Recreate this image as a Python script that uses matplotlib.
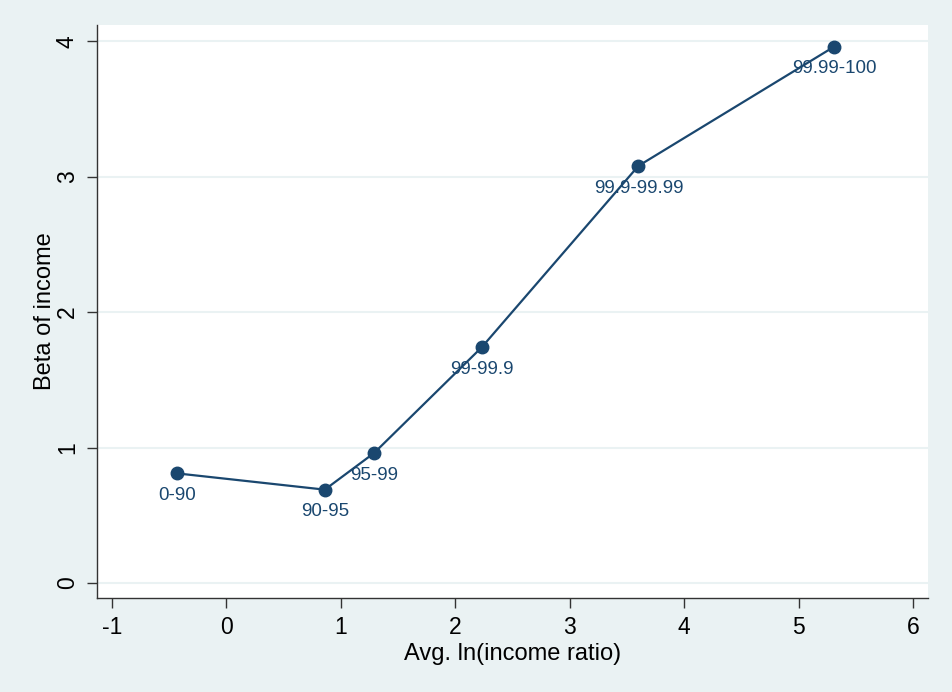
import matplotlib
matplotlib.use('Agg')
import matplotlib.pyplot as plt

# income groups and their estimated betas
groups = ['0-90', '90-95', '95-99', '99-99.9', '99.9-99.99', '99.99-100']
ln_ratio = [-0.43, 0.86, 1.29, 2.23, 3.60, 5.31]
beta = [0.81, 0.69, 0.96, 1.74, 3.08, 3.96]

plt.rcParams['font.family'] = ['Liberation Sans', 'DejaVu Sans']
plt.rcParams['axes.unicode_minus'] = False

navy = '#1a476f'
bg = '#eaf2f3'

fig = plt.figure(figsize=(9.53, 6.92), dpi=100, facecolor=bg)
ax = fig.add_axes([0.1018, 0.1358, 0.9738 - 0.1018, 0.9639 - 0.1358])
ax.set_facecolor('white')

ax.plot(ln_ratio, beta, color=navy, lw=1.6, marker='o', ms=9, zorder=3)
for g, x, y in zip(groups, ln_ratio, beta):
    ax.annotate(g, (x, y), xytext=(0, -16), textcoords='offset points',
                ha='center', va='center', fontsize=13.5, color=navy)

ax.set_xlim(-1.13, 6.13)
ax.set_ylim(-0.11, 4.12)
ax.set_xticks(range(-1, 7))
ax.set_yticks(range(0, 5))
ax.grid(axis='y', color=bg, lw=1.5)
ax.set_axisbelow(True)

for s in ['top', 'right']:
    ax.spines[s].set_visible(False)
for s in ['left', 'bottom']:
    ax.spines[s].set_color('#333333')
    ax.spines[s].set_linewidth(1.0)

ax.tick_params(direction='out', length=7, width=1, color='#333333',
               labelsize=16.5, pad=6)
plt.setp(ax.get_yticklabels(), rotation=90, va='center')

ax.set_xlabel('Avg. ln(income ratio)', fontsize=17, labelpad=3)
ax.set_ylabel('Beta of income', fontsize=17, labelpad=0)

fig.savefig('out.png', dpi=100, facecolor=bg)
